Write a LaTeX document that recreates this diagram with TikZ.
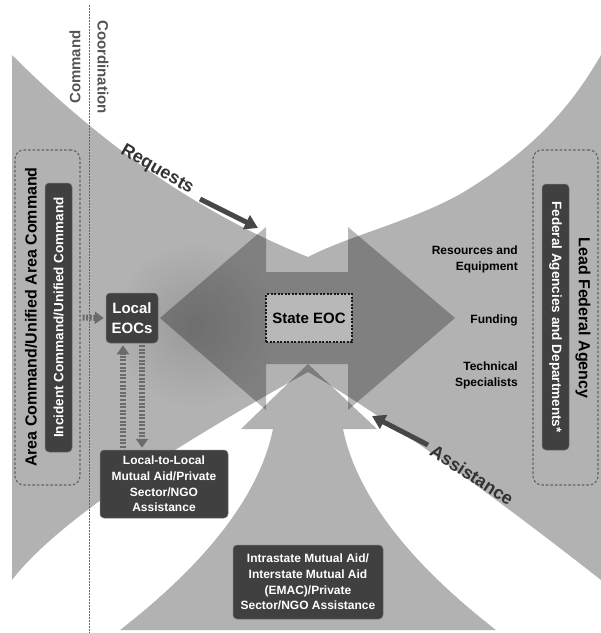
\documentclass[tikz,border=0pt]{standalone}
\usepackage{fontspec}
\setmainfont{Liberation Sans}
\usepackage{tikz}
\usetikzlibrary{arrows.meta,positioning,calc}
\tikzstyle{darkbox} = [rectangle, fill=black!75, draw=black!55, line width=0.5pt, text=white, rounded corners=4pt, align=center, inner sep=2pt, font=\bfseries\fontsize{12}{15.7}\selectfont]
\tikzstyle{dashbox} = [rectangle, draw=black!62, line width=1.1pt, dash pattern=on 2.5pt off 2pt, rounded corners=9pt, minimum width=65pt, minimum height=335pt]
\tikzstyle{statebox} = [rectangle, fill=black!28, draw=black!90, line width=1.2pt, dash pattern=on 2pt off 1.5pt, minimum width=86pt, minimum height=48pt, font=\bfseries\fontsize{15}{18}\selectfont]
\tikzstyle{sidetext} = [align=right, anchor=east, inner sep=0pt, font=\bfseries\fontsize{12}{16}\selectfont]
\tikzstyle{headtext} = [text=black!67, font=\bfseries\fontsize{15}{18}\selectfont]
\tikzstyle{flowtext} = [text=black!80, font=\bfseries\fontsize{18}{21}\selectfont]
\tikzstyle{bigtext} = [font=\bfseries\fontsize{16}{19}\selectfont]
\tikzstyle{fatarrow} = [draw=black!72, line width=5pt, -{Triangle[length=13pt,width=15pt]}]
\tikzstyle{dotarrow} = [draw=black!58, line width=6pt, dash pattern=on 2pt off 1.6pt, -{Triangle[length=9pt,width=12pt]}, shorten <=2pt, shorten >=2pt]
\newcommand{\funnelpath}{(12,55) .. controls (105,148) and (203,215) .. (308,257) .. controls (350,235) and (420,219) .. (467,190) .. controls (540,145) and (575,100) .. (601,55) -- (601,580) .. controls (540,532) and (400,425) .. (308,372) .. controls (151,459) and (52,528) .. (12,580) -- cycle}

\begin{document}
\begin{tikzpicture}[x=1pt, y=-1pt]
        \useasboundingbox (0,0) rectangle (601,633);

        % Funnels
        \fill[black!30] \funnelpath;
        \begin{scope}
            \clip \funnelpath;
            \shade[inner color=black!40, outer color=black!30] (195,325) circle (85);
        \end{scope}
        \fill[black, fill opacity=.3] (120,630) .. controls (209,561) and (260,493) .. (273,429) -- (241,429) -- (308,364) -- (377,429) -- (343,429) .. controls (356,493) and (407,561) .. (496,630) -- cycle;
        \fill[black, fill opacity=.28] (160,318) -- (266,227) -- (266,272) -- (348,272) -- (348,227) -- (455,318) -- (348,410) -- (348,364) -- (266,364) -- (266,410) -- cycle;
        \draw[black!60, line width=1pt, dash pattern=on 1.5pt off 1.5pt] (89,5) -- (89,633);

        % Nodes
        \node [headtext, rotate=90] (command) at (75,67) {Command};
        \node [headtext, rotate=-90] (coord) at (103,67) {Coordination};
        \node [dashbox] (areabox) at (47.5,317.5) {};
        \node [bigtext, rotate=90] (areatext) at (31,317) {Area Command/Unified Area Command};
        \node [darkbox, rotate=90, minimum width=269pt, minimum height=27pt, font=\bfseries\fontsize{13.5}{16}\selectfont] (icbox) at (58.5,317.5) {Incident Command/Unified Command};
        \node [darkbox, minimum width=52pt, minimum height=50pt, font=\bfseries\fontsize{15}{20}\selectfont] (localeoc) at (132,318) {Local\\EOCs};
        \node [statebox] (stateeoc) at (309,318) {State EOC};
        \node [darkbox, minimum width=128pt, minimum height=68pt] (ltl) at (164,484) {Local-to-Local\\Mutual Aid/Private\\Sector/NGO\\Assistance};
        \node [darkbox, minimum width=150pt, minimum height=74pt] (intra) at (308,582) {Intrastate Mutual Aid/\\Interstate Mutual Aid\\(EMAC)/Private\\Sector/NGO Assistance};
        \node [sidetext] (resources) at (518,259) {Resources and\\Equipment};
        \node [sidetext] (funding) at (518,320) {Funding};
        \node [sidetext] (technical) at (518,375) {Technical\\Specialists};
        \node [dashbox] (leadbox) at (565.5,317.5) {};
        \node [darkbox, rotate=-90, minimum width=266pt, minimum height=27pt, font=\bfseries\fontsize{13.5}{16}\selectfont] (fedbox) at (555.5,317) {Federal Agencies and Departments*};
        \node [bigtext, rotate=-90] (leadtext) at (583,318) {Lead Federal Agency};
        \node [flowtext, rotate=-30] (requests) at (157,170) {Requests};
        \node [flowtext, rotate=-33] (assist) at (472,475) {Assistance};
        \coordinate (reqtail) at (200,199);
        \coordinate (reqtip) at (258,228);
        \coordinate (asstail) at (428,445);
        \coordinate (asstip) at (372,416);

        % Paths
        \draw [fatarrow] (reqtail) -- (reqtip);
        \draw [fatarrow] (asstail) -- (asstip);
        \draw [dotarrow] (areabox.east) -- (localeoc.west);
        \draw [dotarrow] ($(ltl.north -| localeoc.south)+(-9,0)$) -- ($(localeoc.south)+(-9,0)$);
        \draw [dotarrow] ($(localeoc.south)+(10,0)$) -- ($(ltl.north -| localeoc.south)+(10,0)$);
    \end{tikzpicture}
\end{document}
